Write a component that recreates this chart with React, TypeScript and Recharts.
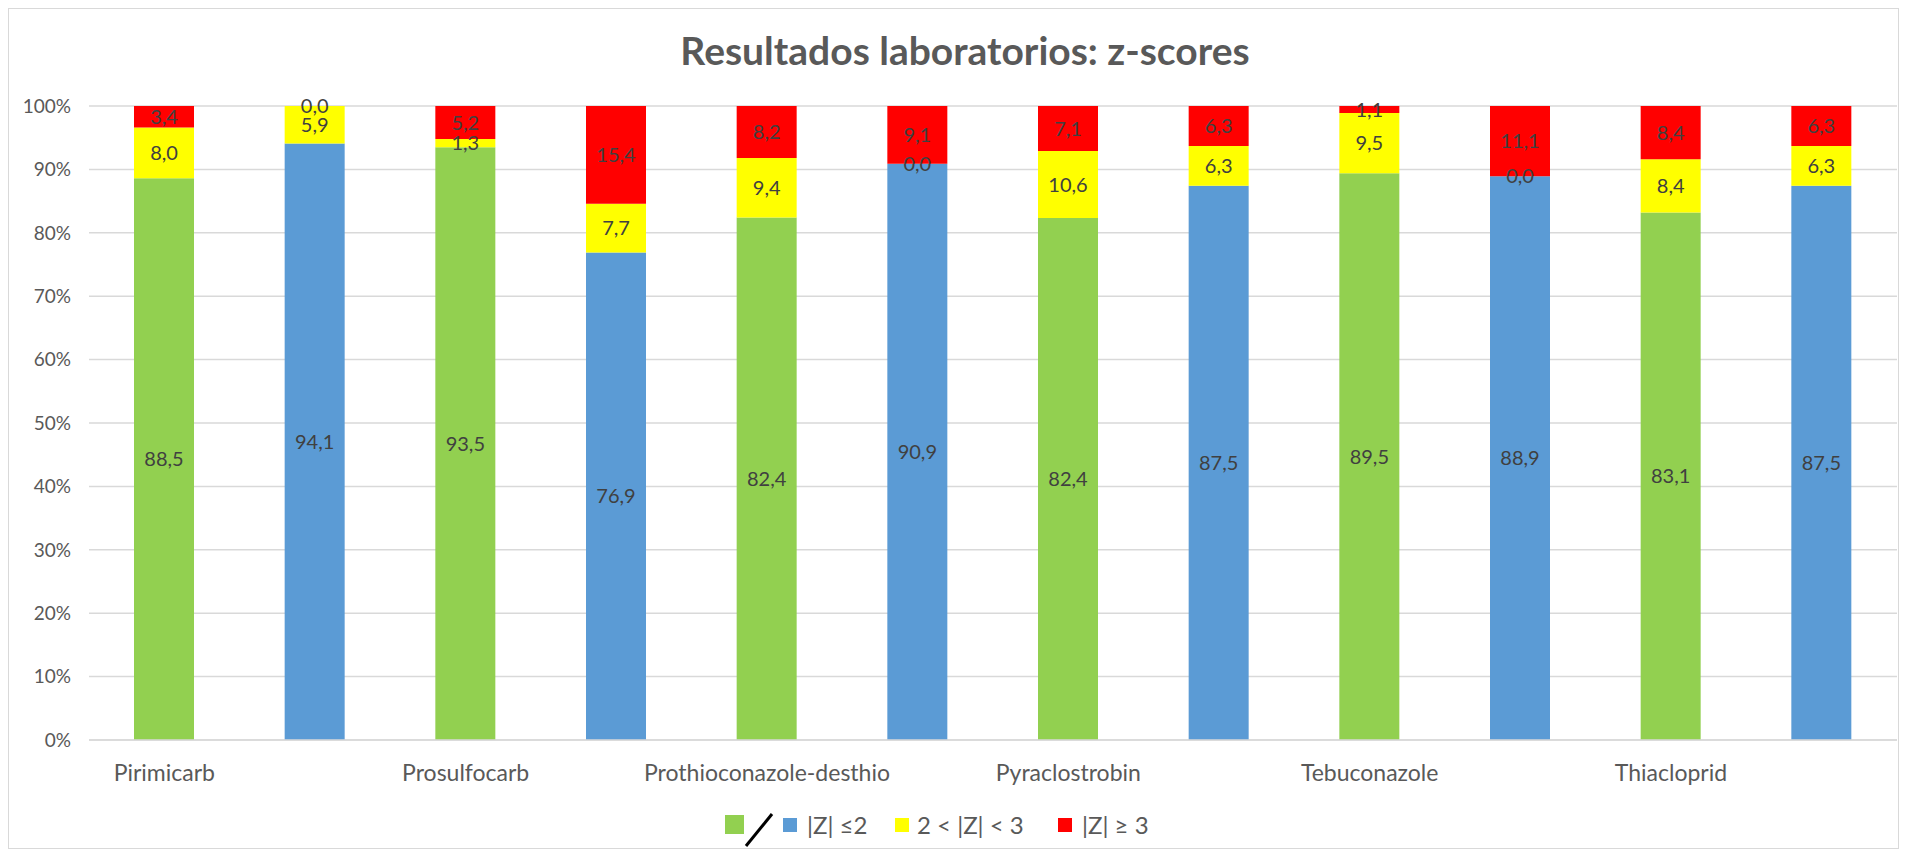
import React from 'react';
import { BarChart, Bar, XAxis, YAxis, CartesianGrid, LabelList, Cell } from 'recharts';

const categories = ['Pirimicarb', '', 'Prosulfocarb', '', 'Prothioconazole-desthio', '', 'Pyraclostrobin', '', 'Tebuconazole', '', 'Thiacloprid', ''];
const lowZ = [88.5, 94.1, 93.5, 76.9, 82.4, 90.9, 82.4, 87.5, 89.5, 88.9, 83.1, 87.5];
const midZ = [8.0, 5.9, 1.3, 7.7, 9.4, 0.0, 10.6, 6.3, 9.5, 0.0, 8.4, 6.3];
const highZ = [3.4, 0.0, 5.2, 15.4, 8.2, 9.1, 7.1, 6.3, 1.1, 11.1, 8.4, 6.3];
const yTicks = [0, 0.1, 0.2, 0.3, 0.4, 0.5, 0.6, 0.7, 0.8, 0.9, 1];
const seriesNames = ['|Z| ≤2', '2 < |Z| < 3', '|Z| ≥ 3'];
const title = 'Resultados laboratorios: z-scores';

const GREEN = '#92D050';
const BLUE = '#5B9BD5';
const YELLOW = '#FFFF00';
const RED = '#FF0000';
const lowColors = [GREEN, BLUE];

const data = categories.map((name, i) => ({ name, low: lowZ[i], mid: midZ[i], high: highZ[i] }));

const FONT = 'Lato, "Open Sans", sans-serif';
const fmt = (v: any) => Number(v).toFixed(1).replace('.', ',');
const labelStyle = { fill: '#404040', fontSize: 20, fontFamily: FONT };

export default function App() {
  return (
    <div style={{ position: 'relative', width: 1889, height: 839, border: '1px solid #d9d9d9', background: '#fff', fontFamily: FONT }}>
      <div style={{ position: 'absolute', left: 956, top: 22, transform: 'translateX(-50%)', whiteSpace: 'nowrap', fontSize: 39, lineHeight: '39px', fontWeight: 700, color: '#595959' }}>
        {title}
      </div>
      <div style={{ position: 'absolute', left: 0, top: 0 }}>
        <BarChart width={1889} height={839} data={data} stackOffset="expand" barSize={60} margin={{ top: 97, right: 1, bottom: 68, left: 0 }}>
          <CartesianGrid vertical={false} stroke="#d9d9d9" strokeWidth={1.5} />
          <XAxis dataKey="name" interval={0} tickLine={false} tickSize={0} tickMargin={25} height={40} axisLine={{ stroke: '#d9d9d9', strokeWidth: 1.5 }} tick={{ fill: '#595959', fontSize: 23, fontFamily: FONT }} />
          <YAxis width={80} domain={[0, 1]} ticks={yTicks} axisLine={false} tickLine={false} tickSize={0} tickMargin={18} tickFormatter={(v: number) => `${Math.round(v * 100)}%`} tick={{ fill: '#595959', fontSize: 19, fontFamily: FONT }} />
          <Bar dataKey="low" stackId="s" name={seriesNames[0]} minPointSize={0.01} isAnimationActive={false}>
            {data.map((_, i) => (
              <Cell key={i} fill={lowColors[i % 2]} />
            ))}
            <LabelList dataKey="low" position="center" formatter={fmt} style={labelStyle} />
          </Bar>
          <Bar dataKey="mid" stackId="s" name={seriesNames[1]} fill={YELLOW} minPointSize={0.01} isAnimationActive={false}>
            <LabelList dataKey="mid" position="center" formatter={fmt} style={labelStyle} />
          </Bar>
          <Bar dataKey="high" stackId="s" name={seriesNames[2]} fill={RED} minPointSize={0.01} isAnimationActive={false}>
            <LabelList dataKey="high" position="center" formatter={fmt} style={labelStyle} />
          </Bar>
        </BarChart>
      </div>
      <div style={{ position: 'absolute', left: 0, top: 0, width: 1889, height: 839, pointerEvents: 'none', fontSize: 24, color: '#595959' }}>
        <div style={{ position: 'absolute', left: 716, top: 806, width: 19, height: 19, background: GREEN }} />
        <svg style={{ position: 'absolute', left: 734, top: 802 }} width={32} height={38}>
          <line x1={3} y1={35} x2={29} y2={3} stroke="#000" strokeWidth={3} />
        </svg>
        <div style={{ position: 'absolute', left: 774, top: 809, width: 14, height: 14, background: BLUE }} />
        <div style={{ position: 'absolute', left: 798, top: 801, lineHeight: '30px', whiteSpace: 'nowrap' }}>{seriesNames[0]}</div>
        <div style={{ position: 'absolute', left: 886, top: 809, width: 14, height: 14, background: YELLOW }} />
        <div style={{ position: 'absolute', left: 908, top: 801, lineHeight: '30px', whiteSpace: 'nowrap' }}>{seriesNames[1]}</div>
        <div style={{ position: 'absolute', left: 1049, top: 809, width: 14, height: 14, background: RED }} />
        <div style={{ position: 'absolute', left: 1073, top: 801, lineHeight: '30px', whiteSpace: 'nowrap' }}>{seriesNames[2]}</div>
      </div>
    </div>
  );
}
